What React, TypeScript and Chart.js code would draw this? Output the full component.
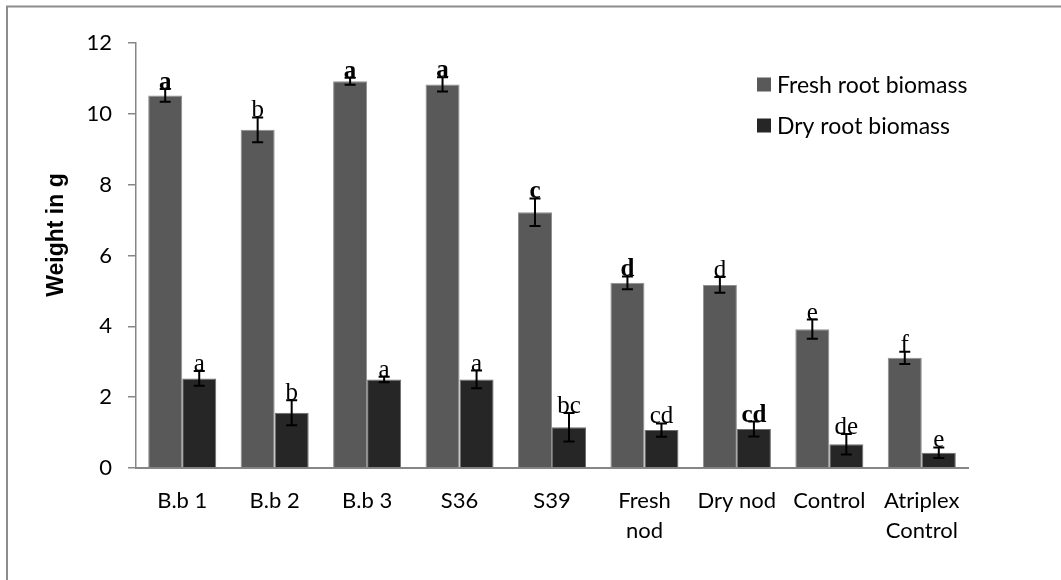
import React, { useEffect, useRef } from "react";
import { Chart, registerables } from "chart.js";

Chart.register(...registerables);

const categories: string[][] = [
  ["B.b 1"],
  ["B.b 2"],
  ["B.b 3"],
  ["S36"],
  ["S39"],
  ["Fresh", "nod"],
  ["Dry nod"],
  ["Control"],
  ["Atriplex", "Control"],
];
const freshValues = [10.52, 9.55, 10.92, 10.83, 7.22, 5.23, 5.17, 3.92, 3.11];
const freshErrors = [0.18, 0.35, 0.1, 0.2, 0.39, 0.18, 0.22, 0.27, 0.17];
const dryValues = [2.53, 1.56, 2.5, 2.5, 1.15, 1.07, 1.1, 0.67, 0.43];
const dryErrors = [0.21, 0.35, 0.08, 0.25, 0.4, 0.19, 0.21, 0.29, 0.15];
const freshLetters = ["a", "b", "a", "a", "c", "d", "d", "e", "f"];
const dryLetters = ["a", "b", "a", "a", "bc", "cd", "cd", "de", "e"];
const freshBold = [true, false, true, true, true, true, false, false, false];
const dryBold = [false, false, false, false, false, false, true, false, false];
const seriesNames = ["Fresh root biomass", "Dry root biomass"];
const seriesColors = ["#595959", "#262626"];
const yTicks = [0, 2, 4, 6, 8, 10, 12];
const yTitle = "Weight in g";

const W = 1061;
const H = 580;
const AXIS = "#868686";

const overlayPlugin = {
  id: "overlay",
  beforeDraw(chart: any) {
    const ctx = chart.ctx;
    ctx.save();
    ctx.fillStyle = "#ffffff";
    ctx.fillRect(0, 0, W, H);
    ctx.strokeStyle = "#8c8c8c";
    ctx.lineWidth = 2;
    ctx.beginPath();
    ctx.moveTo(7, H);
    ctx.lineTo(7, 6.5);
    ctx.lineTo(W, 6.5);
    ctx.stroke();
    ctx.restore();
  },
  afterDatasetsDraw(chart: any) {
    const ctx = chart.ctx;
    const y = chart.scales.y;
    const errs = [freshErrors, dryErrors];
    const letters = [freshLetters, dryLetters];
    const bolds = [freshBold, dryBold];
    ctx.save();
    chart.data.datasets.forEach((ds: any, di: number) => {
      const meta = chart.getDatasetMeta(di);
      meta.data.forEach((bar: any, i: number) => {
        const v = ds.data[i];
        const e = errs[di][i];
        const yTop = y.getPixelForValue(v + e);
        const yBot = y.getPixelForValue(v - e);
        const x = bar.x;
        ctx.strokeStyle = "#000";
        ctx.lineWidth = 2;
        ctx.beginPath();
        ctx.moveTo(x, yTop);
        ctx.lineTo(x, yBot);
        ctx.moveTo(x - 5.5, yTop);
        ctx.lineTo(x + 5.5, yTop);
        ctx.moveTo(x - 5.5, yBot);
        ctx.lineTo(x + 5.5, yBot);
        ctx.stroke();
        ctx.fillStyle = "#000";
        ctx.font = `${bolds[di][i] ? "bold " : ""}25px "Liberation Serif", "DejaVu Serif", serif`;
        ctx.textAlign = "center";
        ctx.textBaseline = "alphabetic";
        ctx.fillText(letters[di][i], x, yTop);
      });
    });
    // legend
    ctx.font = `23px Lato, "Open Sans", sans-serif`;
    ctx.textAlign = "left";
    ctx.textBaseline = "middle";
    const legendY = [84.5, 125.5];
    seriesNames.forEach((name, i) => {
      ctx.fillStyle = seriesColors[i];
      ctx.fillRect(757, legendY[i] - 7, 14, 14);
      ctx.fillStyle = "#000";
      ctx.fillText(name, 777, legendY[i] + 1);
    });
    // y title
    ctx.save();
    ctx.translate(57, 235);
    ctx.rotate(-Math.PI / 2);
    ctx.font = `bold 23px "Liberation Sans", Arial, sans-serif`;
    ctx.textAlign = "center";
    ctx.textBaseline = "middle";
    ctx.fillStyle = "#000";
    ctx.fillText(yTitle, 0, 0);
    ctx.restore();
    ctx.restore();
  },
};

export default function App() {
  const ref = useRef<HTMLCanvasElement | null>(null);
  useEffect(() => {
    if (!ref.current) return;
    const chart = new Chart(ref.current, {
      type: "bar",
      data: {
        labels: categories,
        datasets: [
          {
            label: seriesNames[0],
            data: freshValues,
            backgroundColor: seriesColors[0],
            borderColor: "#8f8f8f",
            borderWidth: 1,
            categoryPercentage: 0.736,
            barPercentage: 1.0,
          },
          {
            label: seriesNames[1],
            data: dryValues,
            backgroundColor: seriesColors[1],
            borderColor: "#6e6e6e",
            borderWidth: 1,
            categoryPercentage: 0.736,
            barPercentage: 1.0,
          },
        ],
      },
      options: {
        responsive: false,
        animation: false,
        layout: { padding: { top: 43, right: 93, bottom: 0, left: 0 } },
        plugins: {
          legend: { display: false },
          tooltip: { enabled: false },
          title: { display: false },
        },
        scales: {
          x: {
            type: "category",
            grid: { display: false, drawTicks: false, tickLength: 0 },
            border: { display: true, color: AXIS, width: 2 },
            ticks: {
              color: "#000",
              padding: 18,
              maxRotation: 0,
              autoSkip: false,
              font: { family: "Lato", size: 22, lineHeight: 1.36 },
            },
            afterFit: (s: any) => {
              s.height = 112;
            },
          },
          y: {
            min: 0,
            max: 12,
            afterBuildTicks: (s: any) => {
              s.ticks = yTicks.map((v) => ({ value: v }));
            },
            grid: {
              display: true,
              drawOnChartArea: false,
              drawTicks: true,
              tickLength: 8,
              color: AXIS,
              lineWidth: 1.5,
            },
            border: { display: true, color: AXIS, width: 1.5 },
            ticks: {
              color: "#000",
              padding: 16,
              font: { family: "Lato", size: 22 },
            },
            afterFit: (s: any) => {
              s.width = 136;
            },
          },
        },
      },
      plugins: [overlayPlugin],
    });
    return () => chart.destroy();
  }, []);
  return (
    <div style={{ position: "fixed", left: 0, top: 0, width: W, height: H, background: "#fff" }}>
      <canvas ref={ref} width={W} height={H} style={{ width: W, height: H, display: "block" }} />
    </div>
  );
}
